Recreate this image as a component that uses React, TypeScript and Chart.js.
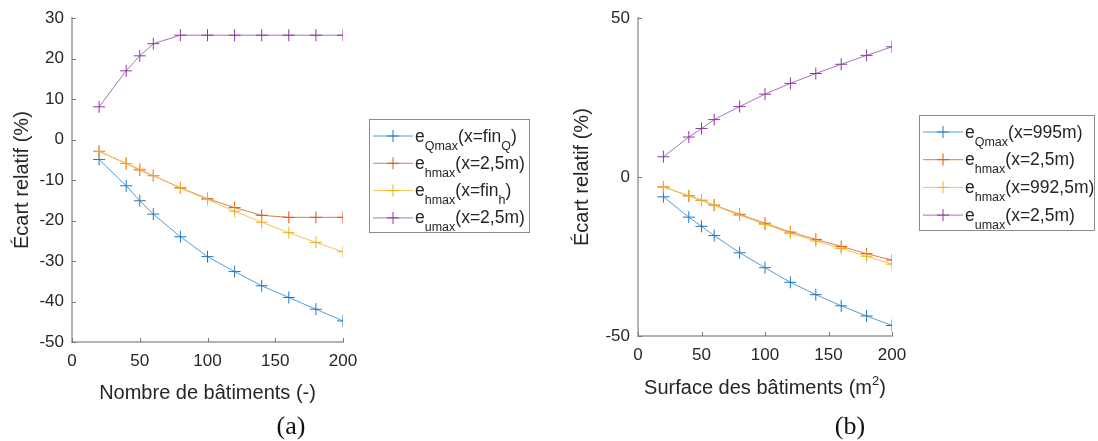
import React, { useEffect, useRef } from 'react';
import { Chart, registerables } from 'chart.js';
Chart.register(...registerables);

// ---------- data ----------
const xValues = [20, 40, 50, 60, 80, 100, 120, 140, 160, 180, 200];

// panel (a): Nombre de bâtiments
const aQmax = [-4.9, -11.4, -15.1, -18.4, -24.0, -28.9, -32.6, -36.1, -39.0, -41.9, -44.8];
const aHmax25 = [-2.9, -5.9, -7.5, -8.9, -11.9, -14.6, -16.8, -18.7, -19.2, -19.2, -19.2];
const aHmaxFin = [-2.9, -5.9, -7.3, -8.9, -12.0, -14.8, -17.7, -20.4, -23.0, -25.4, -27.7];
const aUmax = [8.1, 17.0, 20.7, 23.7, 25.8, 25.8, 25.8, 25.8, 25.8, 25.8, 25.8];

// panel (b): Surface des bâtiments
const bQmax = [-6.2, -12.6, -15.5, -18.4, -23.8, -28.5, -33.1, -37.0, -40.5, -43.7, -46.7];
const bHmax25 = [-3.1, -5.9, -7.3, -8.8, -11.7, -14.5, -17.3, -19.6, -21.8, -24.1, -26.1];
const bHmax992 = [-3.1, -5.9, -7.3, -8.9, -12.0, -14.9, -17.7, -20.1, -22.5, -24.9, -27.4];
const bUmax = [6.4, 12.6, 15.3, 18.1, 22.2, 26.1, 29.5, 32.6, 35.5, 38.3, 41.0];

// ticks
const xTicks = [0, 50, 100, 150, 200];
const yTicksA = [-50, -40, -30, -20, -10, 0, 10, 20, 30];
const yTicksB = [-50, 0, 50];

// legend labels (segments: text / subscript)
type Seg = { t: string; sub?: boolean; sup?: boolean };
const legendA: Seg[][] = [
  [{ t: 'e' }, { t: 'Qmax', sub: true }, { t: '(x=fin' }, { t: 'Q', sub: true }, { t: ')' }],
  [{ t: 'e' }, { t: 'hmax', sub: true }, { t: '(x=2,5m)' }],
  [{ t: 'e' }, { t: 'hmax', sub: true }, { t: '(x=fin' }, { t: 'h', sub: true }, { t: ')' }],
  [{ t: 'e' }, { t: 'umax', sub: true }, { t: '(x=2,5m)' }],
];
const legendB: Seg[][] = [
  [{ t: 'e' }, { t: 'Qmax', sub: true }, { t: '(x=995m)' }],
  [{ t: 'e' }, { t: 'hmax', sub: true }, { t: '(x=2,5m)' }],
  [{ t: 'e' }, { t: 'hmax', sub: true }, { t: '(x=992,5m)' }],
  [{ t: 'e' }, { t: 'umax', sub: true }, { t: '(x=2,5m)' }],
];
const yTitle = 'Écart relatif (%)';
const xTitleA: Seg[] = [{ t: 'Nombre de bâtiments (-)' }];
const xTitleB: Seg[] = [{ t: 'Surface des bâtiments (m' }, { t: '2', sup: true }, { t: ')' }];
const captionA = '(a)';
const captionB = '(b)';

// ---------- styles ----------
const lineColors = ['#4f9edc', '#e27b4e', '#f3c655', '#ab6fbd'];
const pointColors = ['#1f77c0', '#d95319', '#edb120', '#8a3a9c'];
const FONT = '"Liberation Sans", Arial, Helvetica, sans-serif';
const TEXT = '#262626';

function drawRich(ctx: CanvasRenderingContext2D, segs: Seg[], x: number, y: number, main: number, small: number, subDy: number, supDy: number, measureOnly = false) {
  let cx = x;
  for (const s of segs) {
    const f = s.sub || s.sup ? small : main;
    ctx.font = `${f}px ${FONT}`;
    const dy = s.sub ? subDy : s.sup ? supDy : 0;
    if (!measureOnly) ctx.fillText(s.t, cx, y + dy);
    cx += ctx.measureText(s.t).width;
  }
  return cx - x;
}

type PanelCfg = {
  series: number[][];
  legend: Seg[][];
  yTicks: number[];
  yMin: number;
  yMax: number;
  xTitle: Seg[];
  caption: string;
  padLeft: number;
  padBottom: number;
  yTitleX: number;
  xTitleDy: number;
  captionX: number;
  legendBox: { x: number; y: number; w: number; h: number; row0: number; dy: number };
};

function makeChart(canvas: HTMLCanvasElement, cfg: PanelCfg) {
  const decor = {
    id: 'decor',
    afterDraw(chart: any) {
      const ctx: CanvasRenderingContext2D = chart.ctx;
      const area = chart.chartArea;
      const xs = chart.scales.x;
      const ys = chart.scales.y;
      ctx.save();
      // inward ticks
      ctx.strokeStyle = '#7a7a7a';
      ctx.lineWidth = 1;
      ctx.beginPath();
      for (const t of xs.ticks) {
        const px = Math.round(xs.getPixelForValue(t.value)) + 0.5;
        ctx.moveTo(px, area.bottom);
        ctx.lineTo(px, area.bottom - 4);
      }
      for (const t of ys.ticks) {
        const py = Math.round(ys.getPixelForValue(t.value)) + 0.5;
        ctx.moveTo(area.left, py);
        ctx.lineTo(area.left + 4, py);
      }
      ctx.stroke();

      ctx.fillStyle = TEXT;
      // y title
      ctx.save();
      ctx.translate(cfg.yTitleX, (area.top + area.bottom) / 2);
      ctx.rotate(-Math.PI / 2);
      ctx.font = `20px ${FONT}`;
      ctx.textAlign = 'center';
      ctx.textBaseline = 'middle';
      ctx.fillText(yTitle, 0, 0);
      ctx.restore();

      // x title
      ctx.textAlign = 'left';
      ctx.textBaseline = 'alphabetic';
      const w = drawRich(ctx, cfg.xTitle, 0, 0, 20, 13, 0, -9, true);
      const cx = (area.left + area.right) / 2;
      drawRich(ctx, cfg.xTitle, cx - w / 2, area.bottom + cfg.xTitleDy, 20, 13, 0, -9);

      // caption
      ctx.font = `26px "Liberation Serif", "Times New Roman", serif`;
      ctx.textAlign = 'center';
      ctx.textBaseline = 'middle';
      ctx.fillStyle = '#111';
      ctx.fillText(cfg.caption, cfg.captionX, 427);

      // legend
      const lb = cfg.legendBox;
      ctx.fillStyle = '#ffffff';
      ctx.fillRect(lb.x, lb.y, lb.w, lb.h);
      ctx.strokeStyle = '#8a8a8a';
      ctx.lineWidth = 1;
      ctx.strokeRect(lb.x + 0.5, lb.y + 0.5, lb.w, lb.h);
      cfg.legend.forEach((segs, i) => {
        const ry = lb.y + lb.row0 + i * lb.dy;
        const x0 = lb.x + 4;
        ctx.strokeStyle = lineColors[i];
        ctx.lineWidth = 1;
        ctx.beginPath();
        ctx.moveTo(x0, ry);
        ctx.lineTo(x0 + 40, ry);
        ctx.stroke();
        ctx.strokeStyle = pointColors[i];
        ctx.beginPath();
        ctx.moveTo(x0 + 20, ry - 6);
        ctx.lineTo(x0 + 20, ry + 6);
        ctx.moveTo(x0 + 14, ry);
        ctx.lineTo(x0 + 26, ry);
        ctx.stroke();
        ctx.fillStyle = TEXT;
        ctx.textAlign = 'left';
        ctx.textBaseline = 'alphabetic';
        drawRich(ctx, segs, x0 + 42, ry + 5.5, 17.5, 12.5, 8, -8);
      });
      ctx.restore();
    },
  };

  return new Chart(canvas, {
    type: 'line',
    data: {
      datasets: cfg.series.map((vals, i) => ({
        data: xValues.map((x, k) => ({ x, y: vals[k] })),
        borderColor: lineColors[i],
        borderWidth: 1,
        pointStyle: 'cross',
        pointRadius: 6,
        pointBorderWidth: 1,
        pointBorderColor: pointColors[i],
        pointBackgroundColor: pointColors[i],
        fill: false,
        tension: 0,
        order: 4 - i,
      })),
    },
    options: {
      responsive: false,
      animation: false,
      devicePixelRatio: 1,
      layout: { padding: { left: cfg.padLeft, right: 206, top: 13, bottom: cfg.padBottom } },
      plugins: { legend: { display: false }, tooltip: { enabled: false } },
      scales: {
        x: {
          type: 'linear',
          min: 0,
          max: 200,
          afterBuildTicks: (s: any) => { s.ticks = xTicks.map((v) => ({ value: v })); },
          afterFit: (s: any) => { s.height = 40; },
          grid: { display: false, drawTicks: false },
          border: { display: true, color: '#b3b3b3', width: 2 },
          ticks: { color: TEXT, font: { family: FONT, size: 17 }, padding: 9, maxRotation: 0, autoSkip: false },
        },
        y: {
          type: 'linear',
          min: cfg.yMin,
          max: cfg.yMax,
          afterBuildTicks: (s: any) => { s.ticks = cfg.yTicks.map((v) => ({ value: v })); },
          afterFit: (s: any) => { s.width = 50; },
          grid: { display: false, drawTicks: false },
          border: { display: true, color: '#b3b3b3', width: 2 },
          ticks: { color: TEXT, font: { family: FONT, size: 17 }, padding: 8, autoSkip: false },
        },
      },
    } as any,
    plugins: [decor],
  });
}

const panelA: PanelCfg = {
  series: [aQmax, aHmax25, aHmaxFin, aUmax],
  legend: legendA,
  yTicks: yTicksA,
  yMin: -50,
  yMax: 30,
  xTitle: xTitleA,
  caption: captionA,
  padLeft: 22,
  padBottom: 59,
  yTitleX: 22,
  xTitleDy: 57,
  captionX: 291,
  legendBox: { x: 369, y: 119, w: 160, h: 113, row0: 17, dy: 27.3 },
};

const panelB: PanelCfg = {
  series: [bQmax, bHmax25, bHmax992, bUmax],
  legend: legendB,
  yTicks: yTicksB,
  yMin: -50,
  yMax: 50,
  xTitle: xTitleB,
  caption: captionB,
  padLeft: 39,
  padBottom: 65,
  yTitleX: 33,
  xTitleDy: 58,
  captionX: 301,
  legendBox: { x: 370, y: 115, w: 175, h: 115, row0: 17, dy: 27.7 },
};

function Panel({ cfg, left }: { cfg: PanelCfg; left: number }) {
  const ref = useRef<HTMLCanvasElement>(null);
  useEffect(() => {
    if (!ref.current) return;
    const c = makeChart(ref.current, cfg);
    return () => c.destroy();
  }, [cfg]);
  return (
    <canvas
      ref={ref}
      width={549}
      height={441}
      style={{ position: 'absolute', left, top: 0, width: 549, height: 441, display: 'block' }}
    />
  );
}

export default function App() {
  return (
    <div style={{ position: 'absolute', left: 0, top: 0, width: 1098, height: 441, background: '#ffffff', overflow: 'hidden' }}>
      <Panel cfg={panelA} left={0} />
      <Panel cfg={panelB} left={549} />
    </div>
  );
}
